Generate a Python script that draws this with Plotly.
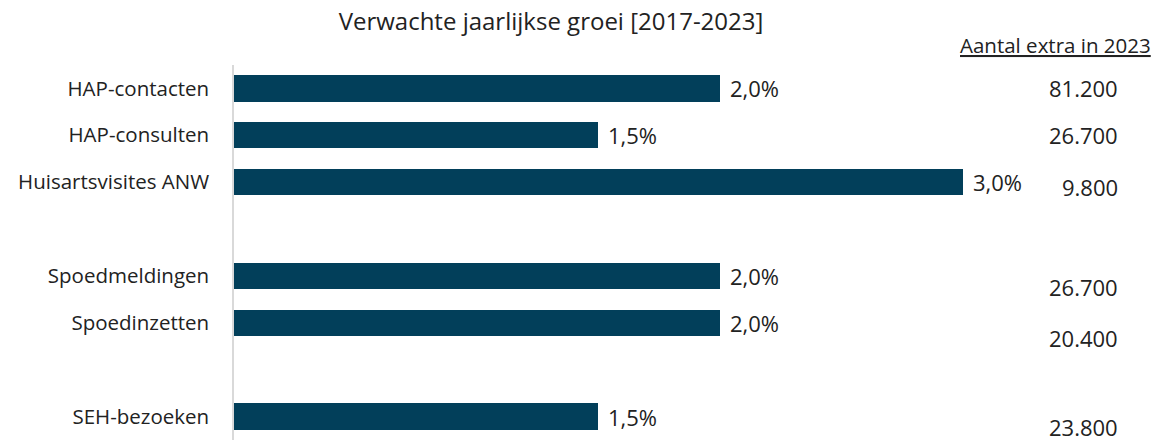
import plotly.graph_objects as go

# Data
groups = [
    ["HAP-contacten", "HAP-consulten", "Huisartsvisites ANW"],
    ["Spoedmeldingen", "Spoedinzetten"],
    ["SEH-bezoeken"],
]
growth = [2.0, 1.5, 3.0, 2.0, 2.0, 1.5]  # % per year
extra_2023 = ["81.200", "26.700", "9.800", "26.700", "20.400", "23.800"]
title_text = "Verwachte jaarlijkse groei [2017-2023]"
side_title = "Aantal extra in 2023"

# positions: groups separated by an empty slot
categories, ypos = [], []
slot = 0
for g in groups:
    for c in g:
        categories.append(c)
        ypos.append(slot)
        slot += 1
    slot += 1

# vertical offsets of the right-hand numbers (as drawn in the source)
extra_offsets = [0.0, 0.0, 0.11, 0.24, 0.32, 0.22]

FONT = "Open Sans"
BAR = "#023F5A"
TXT = "#222222"

# plot area geometry (pixels)
L, R, T, B = 234, 73.5, 64.5, 5.5
W, H = 1158, 446
plot_w = W - L - R
plot_h = H - T - B

fig = go.Figure()
fig.add_trace(go.Bar(
    x=growth, y=ypos, orientation="h",
    marker=dict(color=BAR, line=dict(width=0)),
    width=0.56,
    hoverinfo="skip",
))

# percentage labels next to the bars
for y, v in zip(ypos, growth):
    fig.add_annotation(
        x=v, xref="x", y=y, yref="y",
        text=f"{v:.1f}%".replace(".", ","), showarrow=False,
        xanchor="left", yanchor="middle", xshift=8,
        font=dict(family=FONT, size=22, color=TXT),
    )

# right-hand numbers
for y, v, off in zip(ypos, extra_2023, extra_offsets):
    fig.add_annotation(
        x=(1121 - L) / plot_w, xref="paper", y=y + off, yref="y",
        text=v, showarrow=False, xanchor="right", yanchor="middle",
        font=dict(family=FONT, size=22, color=TXT),
    )

fig.add_annotation(
    x=(1056 - L) / plot_w, xref="paper", y=1 + (T - 44) / plot_h, yref="paper",
    text=side_title, showarrow=False, xanchor="center", yanchor="middle",
    font=dict(family=FONT, size=20.5, color=TXT, lineposition="under"),
)

fig.update_layout(
    width=W, height=H,
    margin=dict(l=L, r=R, t=T, b=B),
    paper_bgcolor="white", plot_bgcolor="white",
    showlegend=False,
    title=dict(text=title_text, x=551 / W, xanchor="center", xref="container",
               y=1 - 22 / H, yanchor="middle", yref="container",
               font=dict(family=FONT, size=24, color=TXT)),
    bargap=0,
)
fig.update_xaxes(range=[0, 3.5], visible=False, fixedrange=True)
fig.update_yaxes(
    range=[7.5, -0.5], tickvals=ypos, ticktext=categories,
    showline=True, linecolor="#D9D9D9", linewidth=1.5,
    showgrid=False, zeroline=False, ticks="", ticklabelstandoff=19,
    tickfont=dict(family=FONT, size=20.5, color=TXT),
)

fig.write_html("out.html")
